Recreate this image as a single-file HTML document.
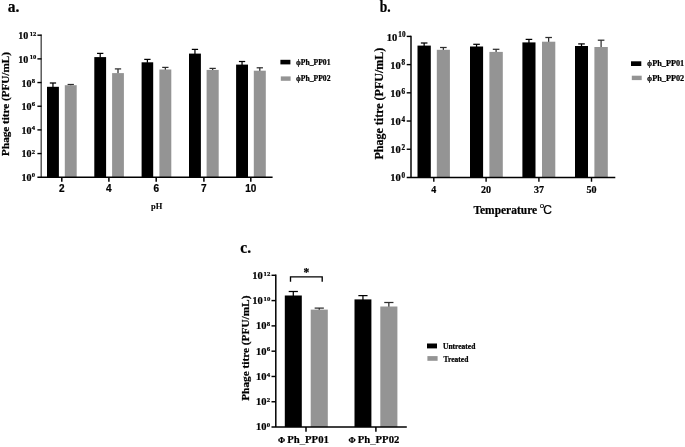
<!DOCTYPE html>
<html><head><meta charset="utf-8"><title>Phage stability</title>
<style>html,body{margin:0;padding:0;background:#fff;}svg{display:block}text{stroke:#000;stroke-width:0.22px;}text.n{stroke-width:0.1px}</style></head>
<body><svg width="685" height="447" viewBox="0 0 685 447">
<rect width="685" height="447" fill="#fff"/>
<text transform="translate(7.8,11.6) scale(0.95,1)" font-family='"Liberation Serif", serif' font-size="16.3" font-weight="bold">a.</text>
<line x1="52.95" y1="87.30" x2="52.95" y2="83.00" stroke="#000" stroke-width="1.25"/>
<line x1="49.80" y1="83.00" x2="56.10" y2="83.00" stroke="#000" stroke-width="1.25"/>
<rect x="47.00" y="86.80" width="11.90" height="90.45" fill="#000"/>
<line x1="70.75" y1="85.70" x2="70.75" y2="84.50" stroke="#2e2e2e" stroke-width="1.25"/>
<line x1="67.60" y1="84.50" x2="73.90" y2="84.50" stroke="#2e2e2e" stroke-width="1.25"/>
<rect x="64.80" y="85.20" width="11.90" height="92.05" fill="#949494"/>
<line x1="100.20" y1="57.60" x2="100.20" y2="53.40" stroke="#000" stroke-width="1.25"/>
<line x1="97.05" y1="53.40" x2="103.35" y2="53.40" stroke="#000" stroke-width="1.25"/>
<rect x="94.30" y="57.10" width="11.80" height="120.15" fill="#000"/>
<line x1="118.00" y1="73.60" x2="118.00" y2="68.90" stroke="#2e2e2e" stroke-width="1.25"/>
<line x1="114.85" y1="68.90" x2="121.15" y2="68.90" stroke="#2e2e2e" stroke-width="1.25"/>
<rect x="112.10" y="73.10" width="11.80" height="104.15" fill="#949494"/>
<line x1="147.40" y1="62.80" x2="147.40" y2="59.40" stroke="#000" stroke-width="1.25"/>
<line x1="144.25" y1="59.40" x2="150.55" y2="59.40" stroke="#000" stroke-width="1.25"/>
<rect x="141.60" y="62.30" width="11.60" height="114.95" fill="#000"/>
<line x1="165.35" y1="70.00" x2="165.35" y2="67.40" stroke="#2e2e2e" stroke-width="1.25"/>
<line x1="162.20" y1="67.40" x2="168.50" y2="67.40" stroke="#2e2e2e" stroke-width="1.25"/>
<rect x="159.40" y="69.50" width="11.90" height="107.75" fill="#949494"/>
<line x1="194.95" y1="54.10" x2="194.95" y2="49.40" stroke="#000" stroke-width="1.25"/>
<line x1="191.80" y1="49.40" x2="198.10" y2="49.40" stroke="#000" stroke-width="1.25"/>
<rect x="189.00" y="53.60" width="11.90" height="123.65" fill="#000"/>
<line x1="212.65" y1="70.40" x2="212.65" y2="68.40" stroke="#2e2e2e" stroke-width="1.25"/>
<line x1="209.50" y1="68.40" x2="215.80" y2="68.40" stroke="#2e2e2e" stroke-width="1.25"/>
<rect x="206.60" y="69.90" width="12.10" height="107.35" fill="#949494"/>
<line x1="242.05" y1="65.10" x2="242.05" y2="61.50" stroke="#000" stroke-width="1.25"/>
<line x1="238.90" y1="61.50" x2="245.20" y2="61.50" stroke="#000" stroke-width="1.25"/>
<rect x="236.10" y="64.60" width="11.90" height="112.65" fill="#000"/>
<line x1="259.80" y1="71.20" x2="259.80" y2="67.80" stroke="#2e2e2e" stroke-width="1.25"/>
<line x1="256.65" y1="67.80" x2="262.95" y2="67.80" stroke="#2e2e2e" stroke-width="1.25"/>
<rect x="253.80" y="70.70" width="12.00" height="106.55" fill="#949494"/>
<line x1="41.20" y1="34.50" x2="41.20" y2="177.25" stroke="#484848" stroke-width="1.35"/>
<line x1="37.40" y1="177.25" x2="272.60" y2="177.25" stroke="#000" stroke-width="1.55"/>
<line x1="37.40" y1="35.20" x2="41.50" y2="35.20" stroke="#000" stroke-width="1.4"/>
<text x="28.30" y="39.40" font-family='"Liberation Serif", serif' font-size="10" font-weight="bold" text-anchor="end" >10</text>
<text x="29.70" y="35.70" font-family='"Liberation Serif", serif' font-size="6.6" font-weight="bold" text-anchor="start" >12</text>
<line x1="37.40" y1="58.88" x2="41.50" y2="58.88" stroke="#000" stroke-width="1.4"/>
<text x="28.30" y="62.98" font-family='"Liberation Serif", serif' font-size="10" font-weight="bold" text-anchor="end" >10</text>
<text x="29.70" y="59.28" font-family='"Liberation Serif", serif' font-size="6.6" font-weight="bold" text-anchor="start" >10</text>
<line x1="37.40" y1="82.55" x2="41.50" y2="82.55" stroke="#000" stroke-width="1.4"/>
<text x="31.40" y="86.57" font-family='"Liberation Serif", serif' font-size="10" font-weight="bold" text-anchor="end" >10</text>
<text x="31.80" y="82.87" font-family='"Liberation Serif", serif' font-size="6.6" font-weight="bold" text-anchor="start" >8</text>
<line x1="37.40" y1="106.23" x2="41.50" y2="106.23" stroke="#000" stroke-width="1.4"/>
<text x="31.40" y="110.15" font-family='"Liberation Serif", serif' font-size="10" font-weight="bold" text-anchor="end" >10</text>
<text x="31.80" y="106.45" font-family='"Liberation Serif", serif' font-size="6.6" font-weight="bold" text-anchor="start" >6</text>
<line x1="37.40" y1="129.90" x2="41.50" y2="129.90" stroke="#000" stroke-width="1.4"/>
<text x="31.40" y="133.73" font-family='"Liberation Serif", serif' font-size="10" font-weight="bold" text-anchor="end" >10</text>
<text x="31.80" y="130.03" font-family='"Liberation Serif", serif' font-size="6.6" font-weight="bold" text-anchor="start" >4</text>
<line x1="37.40" y1="153.57" x2="41.50" y2="153.57" stroke="#000" stroke-width="1.4"/>
<text x="31.40" y="157.32" font-family='"Liberation Serif", serif' font-size="10" font-weight="bold" text-anchor="end" >10</text>
<text x="31.80" y="153.62" font-family='"Liberation Serif", serif' font-size="6.6" font-weight="bold" text-anchor="start" >2</text>
<text x="31.40" y="180.90" font-family='"Liberation Serif", serif' font-size="10" font-weight="bold" text-anchor="end" >10</text>
<text x="31.80" y="177.20" font-family='"Liberation Serif", serif' font-size="6.6" font-weight="bold" text-anchor="start" >0</text>
<line x1="61.80" y1="177.25" x2="61.80" y2="181.65" stroke="#000" stroke-width="1.5"/>
<text x="61.80" y="191.80" font-family='"Liberation Sans", sans-serif' font-size="10" font-weight="bold" text-anchor="middle" >2</text>
<line x1="108.90" y1="177.25" x2="108.90" y2="181.65" stroke="#000" stroke-width="1.5"/>
<text x="108.90" y="191.80" font-family='"Liberation Sans", sans-serif' font-size="10" font-weight="bold" text-anchor="middle" >4</text>
<line x1="156.20" y1="177.25" x2="156.20" y2="181.65" stroke="#000" stroke-width="1.5"/>
<text x="156.20" y="191.80" font-family='"Liberation Sans", sans-serif' font-size="10" font-weight="bold" text-anchor="middle" >6</text>
<line x1="203.90" y1="177.25" x2="203.90" y2="181.65" stroke="#000" stroke-width="1.5"/>
<text x="203.90" y="191.80" font-family='"Liberation Sans", sans-serif' font-size="10" font-weight="bold" text-anchor="middle" >7</text>
<line x1="250.80" y1="177.25" x2="250.80" y2="181.65" stroke="#000" stroke-width="1.5"/>
<text x="250.80" y="191.80" font-family='"Liberation Sans", sans-serif' font-size="10" font-weight="bold" text-anchor="middle" >10</text>
<text transform="translate(156.60,208.80) scale(0.93,1)" font-family='"Liberation Serif", serif' font-size="9.1" font-weight="bold" text-anchor="middle" class="n">pH</text>
<text transform="translate(9.3,104) rotate(-90)" font-family='"Liberation Serif", serif' font-size="11.15" font-weight="bold" text-anchor="middle">Phage titre (PFU/mL)</text>
<rect x="280.40" y="59.80" width="10.00" height="4.60" fill="#000"/>
<rect x="280.80" y="76.40" width="9.80" height="4.40" fill="#949494"/>
<text x="296.00" y="64.90" font-family='"Liberation Serif", serif' font-size="7.65" font-weight="bold" text-anchor="start" >ϕPh_PP01</text>
<text x="296.00" y="81.40" font-family='"Liberation Serif", serif' font-size="7.65" font-weight="bold" text-anchor="start" >ϕPh_PP02</text>
<text transform="translate(379.7,11.7) scale(0.86,1)" font-family='"Liberation Serif", serif' font-size="15.8" font-weight="bold">b.</text>
<line x1="424.15" y1="46.10" x2="424.15" y2="43.00" stroke="#000" stroke-width="1.25"/>
<line x1="420.85" y1="43.00" x2="427.45" y2="43.00" stroke="#000" stroke-width="1.25"/>
<rect x="417.50" y="45.60" width="13.30" height="131.85" fill="#000"/>
<line x1="443.35" y1="50.30" x2="443.35" y2="47.50" stroke="#2e2e2e" stroke-width="1.25"/>
<line x1="440.05" y1="47.50" x2="446.65" y2="47.50" stroke="#2e2e2e" stroke-width="1.25"/>
<rect x="436.80" y="49.80" width="13.10" height="127.65" fill="#949494"/>
<line x1="476.55" y1="47.00" x2="476.55" y2="44.30" stroke="#000" stroke-width="1.25"/>
<line x1="473.25" y1="44.30" x2="479.85" y2="44.30" stroke="#000" stroke-width="1.25"/>
<rect x="470.00" y="46.50" width="13.10" height="130.95" fill="#000"/>
<line x1="496.10" y1="52.40" x2="496.10" y2="49.30" stroke="#2e2e2e" stroke-width="1.25"/>
<line x1="492.80" y1="49.30" x2="499.40" y2="49.30" stroke="#2e2e2e" stroke-width="1.25"/>
<rect x="489.40" y="51.90" width="13.40" height="125.55" fill="#949494"/>
<line x1="528.95" y1="42.90" x2="528.95" y2="39.40" stroke="#000" stroke-width="1.25"/>
<line x1="525.65" y1="39.40" x2="532.25" y2="39.40" stroke="#000" stroke-width="1.25"/>
<rect x="522.40" y="42.40" width="13.10" height="135.05" fill="#000"/>
<line x1="548.65" y1="42.20" x2="548.65" y2="37.50" stroke="#2e2e2e" stroke-width="1.25"/>
<line x1="545.35" y1="37.50" x2="551.95" y2="37.50" stroke="#2e2e2e" stroke-width="1.25"/>
<rect x="542.00" y="41.70" width="13.30" height="135.75" fill="#949494"/>
<line x1="581.50" y1="46.50" x2="581.50" y2="43.90" stroke="#000" stroke-width="1.25"/>
<line x1="578.20" y1="43.90" x2="584.80" y2="43.90" stroke="#000" stroke-width="1.25"/>
<rect x="575.00" y="46.00" width="13.00" height="131.45" fill="#000"/>
<line x1="601.10" y1="47.50" x2="601.10" y2="40.20" stroke="#2e2e2e" stroke-width="1.25"/>
<line x1="597.80" y1="40.20" x2="604.40" y2="40.20" stroke="#2e2e2e" stroke-width="1.25"/>
<rect x="594.40" y="47.00" width="13.40" height="130.45" fill="#949494"/>
<line x1="411.00" y1="35.70" x2="411.00" y2="177.45" stroke="#000" stroke-width="1.45"/>
<line x1="406.70" y1="177.45" x2="615.30" y2="177.45" stroke="#000" stroke-width="1.4"/>
<line x1="406.70" y1="36.40" x2="411.00" y2="36.40" stroke="#000" stroke-width="1.4"/>
<text x="397.20" y="40.75" font-family='"Liberation Serif", serif' font-size="10.5" font-weight="bold" text-anchor="end" >10</text>
<text x="398.30" y="37.35" font-family='"Liberation Serif", serif' font-size="7.2" font-weight="bold" text-anchor="start" >10</text>
<line x1="406.70" y1="64.61" x2="411.00" y2="64.61" stroke="#000" stroke-width="1.4"/>
<text x="400.70" y="68.86" font-family='"Liberation Serif", serif' font-size="10.5" font-weight="bold" text-anchor="end" >10</text>
<text x="401.60" y="65.46" font-family='"Liberation Serif", serif' font-size="7.2" font-weight="bold" text-anchor="start" >8</text>
<line x1="406.70" y1="92.82" x2="411.00" y2="92.82" stroke="#000" stroke-width="1.4"/>
<text x="400.70" y="96.97" font-family='"Liberation Serif", serif' font-size="10.5" font-weight="bold" text-anchor="end" >10</text>
<text x="401.60" y="93.57" font-family='"Liberation Serif", serif' font-size="7.2" font-weight="bold" text-anchor="start" >6</text>
<line x1="406.70" y1="121.03" x2="411.00" y2="121.03" stroke="#000" stroke-width="1.4"/>
<text x="400.70" y="125.08" font-family='"Liberation Serif", serif' font-size="10.5" font-weight="bold" text-anchor="end" >10</text>
<text x="401.60" y="121.68" font-family='"Liberation Serif", serif' font-size="7.2" font-weight="bold" text-anchor="start" >4</text>
<line x1="406.70" y1="149.24" x2="411.00" y2="149.24" stroke="#000" stroke-width="1.4"/>
<text x="400.70" y="153.19" font-family='"Liberation Serif", serif' font-size="10.5" font-weight="bold" text-anchor="end" >10</text>
<text x="401.60" y="149.79" font-family='"Liberation Serif", serif' font-size="7.2" font-weight="bold" text-anchor="start" >2</text>
<text x="400.70" y="181.30" font-family='"Liberation Serif", serif' font-size="10.5" font-weight="bold" text-anchor="end" >10</text>
<text x="401.60" y="177.90" font-family='"Liberation Serif", serif' font-size="7.2" font-weight="bold" text-anchor="start" >0</text>
<line x1="433.80" y1="177.45" x2="433.80" y2="181.75" stroke="#000" stroke-width="1.4"/>
<text transform="translate(433.80,192.70) scale(0.93,1)" font-family='"Liberation Serif", serif' font-size="10.8" font-weight="bold" text-anchor="middle" >4</text>
<line x1="486.10" y1="177.45" x2="486.10" y2="181.75" stroke="#000" stroke-width="1.4"/>
<text transform="translate(486.10,192.70) scale(0.93,1)" font-family='"Liberation Serif", serif' font-size="10.8" font-weight="bold" text-anchor="middle" >20</text>
<line x1="538.90" y1="177.45" x2="538.90" y2="181.75" stroke="#000" stroke-width="1.4"/>
<text transform="translate(538.90,192.70) scale(0.93,1)" font-family='"Liberation Serif", serif' font-size="10.8" font-weight="bold" text-anchor="middle" >37</text>
<line x1="591.50" y1="177.45" x2="591.50" y2="181.75" stroke="#000" stroke-width="1.4"/>
<text transform="translate(591.50,192.70) scale(0.93,1)" font-family='"Liberation Serif", serif' font-size="10.8" font-weight="bold" text-anchor="middle" >50</text>
<text transform="translate(473.40,213.50) scale(0.957,1)" font-family='"Liberation Serif", serif' font-size="12" font-weight="bold" text-anchor="start" >Temperature</text>
<text x="539.70" y="207.60" font-family='"Liberation Sans", sans-serif' font-size="8" font-weight="normal" text-anchor="start" >o</text>
<text x="543.30" y="213.50" font-family='"Liberation Sans", sans-serif' font-size="12" font-weight="normal" text-anchor="start" >C</text>
<text transform="translate(382.9,103.6) rotate(-90)" font-family='"Liberation Serif", serif' font-size="12" font-weight="bold" text-anchor="middle">Phage titre (PFU/mL)</text>
<rect x="631.00" y="61.30" width="10.30" height="4.70" fill="#000"/>
<rect x="631.80" y="75.70" width="9.90" height="4.40" fill="#949494"/>
<text x="647.00" y="66.40" font-family='"Liberation Serif", serif' font-size="8.25" font-weight="bold" text-anchor="start" >ϕPh_PP01</text>
<text x="647.00" y="80.50" font-family='"Liberation Serif", serif' font-size="8.25" font-weight="bold" text-anchor="start" >ϕPh_PP02</text>
<text transform="translate(240.3,253.4) scale(0.95,1)" font-family='"Liberation Serif", serif' font-size="16.3" font-weight="bold">c.</text>
<line x1="293.30" y1="296.00" x2="293.30" y2="291.50" stroke="#000" stroke-width="1.25"/>
<line x1="288.70" y1="291.50" x2="297.90" y2="291.50" stroke="#000" stroke-width="1.25"/>
<rect x="284.80" y="295.50" width="17.00" height="131.55" fill="#000"/>
<line x1="319.25" y1="310.10" x2="319.25" y2="308.10" stroke="#2e2e2e" stroke-width="1.25"/>
<line x1="314.65" y1="308.10" x2="323.85" y2="308.10" stroke="#2e2e2e" stroke-width="1.25"/>
<rect x="310.70" y="309.60" width="17.10" height="117.45" fill="#949494"/>
<line x1="362.95" y1="299.90" x2="362.95" y2="295.60" stroke="#000" stroke-width="1.25"/>
<line x1="358.35" y1="295.60" x2="367.55" y2="295.60" stroke="#000" stroke-width="1.25"/>
<rect x="354.50" y="299.40" width="16.90" height="127.65" fill="#000"/>
<line x1="388.85" y1="307.00" x2="388.85" y2="302.50" stroke="#2e2e2e" stroke-width="1.25"/>
<line x1="384.25" y1="302.50" x2="393.45" y2="302.50" stroke="#2e2e2e" stroke-width="1.25"/>
<rect x="380.30" y="306.50" width="17.10" height="120.55" fill="#949494"/>
<line x1="275.80" y1="274.60" x2="275.80" y2="427.05" stroke="#000" stroke-width="1.5"/>
<line x1="271.50" y1="427.05" x2="406.80" y2="427.05" stroke="#000" stroke-width="1.6"/>
<line x1="271.50" y1="275.30" x2="275.80" y2="275.30" stroke="#000" stroke-width="1.45"/>
<text x="262.70" y="279.10" font-family='"Liberation Serif", serif' font-size="10.5" font-weight="bold" text-anchor="end" >10</text>
<text x="263.50" y="275.90" font-family='"Liberation Serif", serif' font-size="6.8" font-weight="bold" text-anchor="start" >12</text>
<line x1="271.50" y1="300.59" x2="275.80" y2="300.59" stroke="#000" stroke-width="1.45"/>
<text x="262.70" y="304.28" font-family='"Liberation Serif", serif' font-size="10.5" font-weight="bold" text-anchor="end" >10</text>
<text x="263.50" y="301.08" font-family='"Liberation Serif", serif' font-size="6.8" font-weight="bold" text-anchor="start" >10</text>
<line x1="271.50" y1="325.88" x2="275.80" y2="325.88" stroke="#000" stroke-width="1.45"/>
<text x="266.40" y="329.47" font-family='"Liberation Serif", serif' font-size="10.5" font-weight="bold" text-anchor="end" >10</text>
<text x="266.80" y="326.27" font-family='"Liberation Serif", serif' font-size="6.8" font-weight="bold" text-anchor="start" >8</text>
<line x1="271.50" y1="351.18" x2="275.80" y2="351.18" stroke="#000" stroke-width="1.45"/>
<text x="266.40" y="354.65" font-family='"Liberation Serif", serif' font-size="10.5" font-weight="bold" text-anchor="end" >10</text>
<text x="266.80" y="351.45" font-family='"Liberation Serif", serif' font-size="6.8" font-weight="bold" text-anchor="start" >6</text>
<line x1="271.50" y1="376.47" x2="275.80" y2="376.47" stroke="#000" stroke-width="1.45"/>
<text x="266.40" y="379.83" font-family='"Liberation Serif", serif' font-size="10.5" font-weight="bold" text-anchor="end" >10</text>
<text x="266.80" y="376.63" font-family='"Liberation Serif", serif' font-size="6.8" font-weight="bold" text-anchor="start" >4</text>
<line x1="271.50" y1="401.76" x2="275.80" y2="401.76" stroke="#000" stroke-width="1.45"/>
<text x="266.40" y="405.02" font-family='"Liberation Serif", serif' font-size="10.5" font-weight="bold" text-anchor="end" >10</text>
<text x="266.80" y="401.82" font-family='"Liberation Serif", serif' font-size="6.8" font-weight="bold" text-anchor="start" >2</text>
<text x="266.40" y="430.20" font-family='"Liberation Serif", serif' font-size="10.5" font-weight="bold" text-anchor="end" >10</text>
<text x="266.80" y="427.00" font-family='"Liberation Serif", serif' font-size="6.8" font-weight="bold" text-anchor="start" >0</text>
<line x1="306.00" y1="427.05" x2="306.00" y2="431.75" stroke="#000" stroke-width="1.5"/>
<line x1="375.90" y1="427.05" x2="375.90" y2="431.75" stroke="#000" stroke-width="1.5"/>
<polyline points="290.5,281.8 290.5,276.8 322.2,276.8 322.2,281.8" fill="none" stroke="#000" stroke-width="1.35"/>
<text x="306.40" y="275.60" font-family='"Liberation Serif", serif' font-size="11.5" font-weight="bold" text-anchor="middle" >*</text>
<text x="278.10" y="442.70" font-family='"Liberation Serif", serif' font-size="8.6" font-weight="bold" text-anchor="start" >Φ</text>
<text transform="translate(287.20,442.70) scale(0.94,1)" font-family='"Liberation Serif", serif' font-size="11.4" font-weight="bold" text-anchor="start" >Ph<tspan fill="#777" stroke="#777">_</tspan>PP01</text>
<text x="348.60" y="442.70" font-family='"Liberation Serif", serif' font-size="8.6" font-weight="bold" text-anchor="start" >Φ</text>
<text transform="translate(357.70,442.70) scale(0.94,1)" font-family='"Liberation Serif", serif' font-size="11.4" font-weight="bold" text-anchor="start" >Ph<tspan fill="#777" stroke="#777">_</tspan>PP02</text>
<text transform="translate(249.2,348.2) rotate(-90)" font-family='"Liberation Serif", serif' font-size="11.3" font-weight="bold" text-anchor="middle">Phage titre (PFU/mL)</text>
<rect x="427.00" y="343.50" width="10.00" height="4.90" fill="#000"/>
<rect x="427.40" y="356.10" width="10.20" height="4.70" fill="#949494"/>
<text x="443.00" y="348.90" font-family='"Liberation Serif", serif' font-size="7.5" font-weight="bold" text-anchor="start" >Untreated</text>
<text x="443.60" y="361.50" font-family='"Liberation Serif", serif' font-size="7.5" font-weight="bold" text-anchor="start" >Treated</text>
</svg></body></html>
